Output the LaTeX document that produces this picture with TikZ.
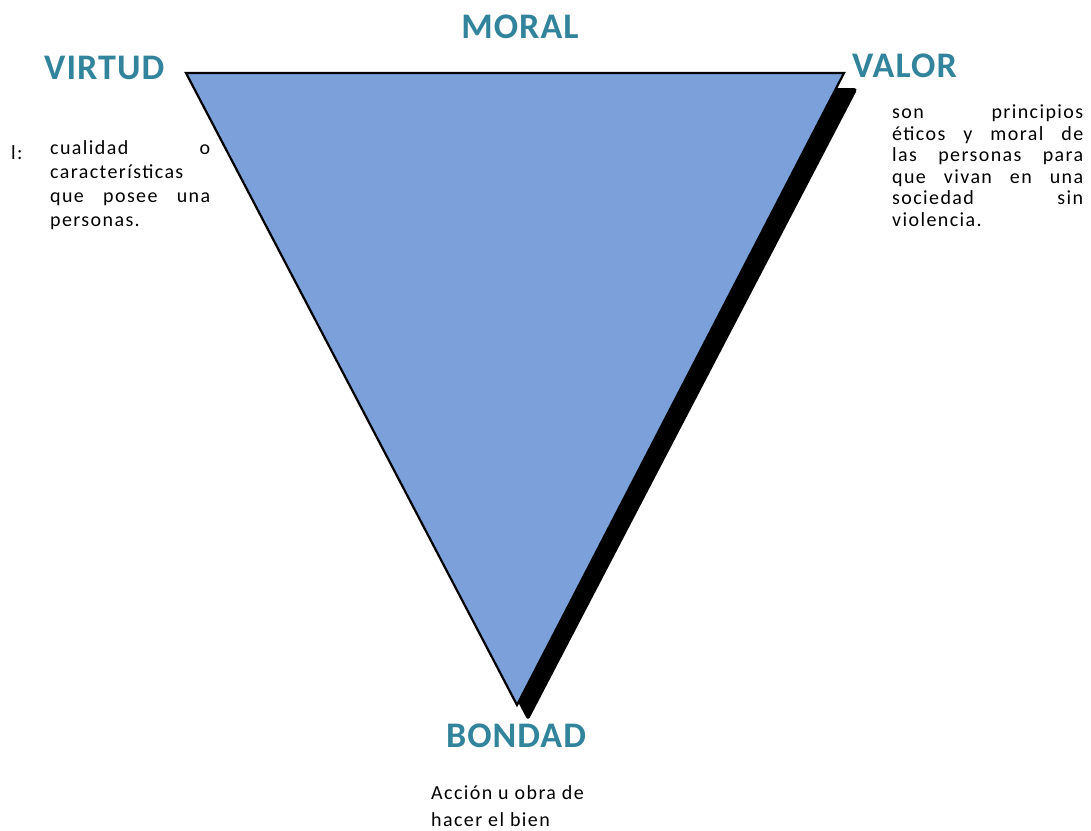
\documentclass[tikz,border=0pt]{standalone}
\usepackage{fontspec}
\setmainfont{Carlito}
\newfontfamily\bodyfont[LetterSpace=7]{Carlito}
\newfontfamily\titlefont[LetterSpace=3]{Carlito}
\definecolor{tealt}{HTML}{31849B}
\definecolor{trifill}{HTML}{7BA0DA}
\begin{document}
\begin{tikzpicture}[x=1pt,y=-1pt,
  title/.style={font=\titlefont\fontsize{36}{40}\selectfont\bfseries, text=tealt, inner sep=0pt},
  body/.style={font=\bodyfont\fontsize{20}{24}\selectfont, inner sep=0pt, align=left}]
\useasboundingbox (0,0) rectangle (1091,830);
% coordinates
\coordinate (tl) at (186,73);
\coordinate (tr) at (844,73);
\coordinate (bt) at (517,705);
\coordinate (stl) at (198,88);
\coordinate (str) at (858,88);
\coordinate (sbt) at (528,721);
% shadow
\fill[black, rounded corners=4pt] (stl) -- (str) -- (sbt) -- cycle;
% triangle
\filldraw[fill=trifill, draw=black, line width=2.2pt, line join=miter] (tl) -- (tr) -- (bt) -- cycle;
% titles
\node[title, anchor=base] (moral) at (520,38) {MORAL};
\node[title, anchor=base west] (virtud) at (44,79) {VIRTUD};
\node[title, anchor=base west] (valor) at (852,77) {VALOR};
\node[title, anchor=base] (bondad) at (516,747) {BONDAD};
% texts
\node[body, anchor=base west] (bul) at (11,159) {l:};
\node[body, anchor=north west] (vtext) at (50,140) {%
\makebox[160pt][s]{cualidad o}\\
características\\
\makebox[160pt][s]{que posee una}\\
personas.};
\node[body, anchor=north west, font=\bodyfont\fontsize{20}{21.5}\selectfont] (ltext) at (892,105) {%
\makebox[191pt][s]{son principios}\\
\makebox[191pt][s]{éticos y moral de}\\
\makebox[191pt][s]{las personas para}\\
\makebox[191pt][s]{que vivan en una}\\
\makebox[191pt][s]{sociedad sin}\\
violencia.};
\node[body, anchor=north west, font=\bodyfont\fontsize{20}{27}\selectfont] (btext) at (431,785) {%
Acción u obra de\\
hacer el bien};
\end{tikzpicture}
\end{document}
